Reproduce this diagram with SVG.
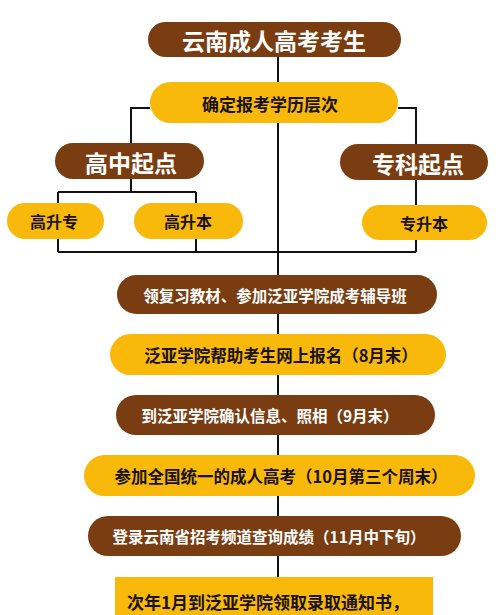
<svg xmlns="http://www.w3.org/2000/svg" width="500" height="615" viewBox="0 0 500 615">
<style>
.d{fill:#7a3d12}
.y{fill:#f8b90b}
.t{font-family:"Noto Sans CJK SC","Noto Sans",sans-serif;font-weight:bold;text-anchor:middle;dominant-baseline:central}
.w{fill:#ffffff}
.k{fill:#1a1208}
.ln{stroke:#111;stroke-width:2;fill:none}
</style>
<rect width="500" height="615" fill="#ffffff"/>
<g id="connectors">
<path class="ln" d="M278 57V577"/>
<path class="ln" d="M150 108H131V143M398 108H416V145"/>
<path class="ln" d="M131 179V192M58 192H196M58 192V204M196 192V204"/>
<path class="ln" d="M416 180V205"/>
<path class="ln" d="M58 239V252M196 239V252M416 240V252M58 252H416"/>
</g>
<g id="n-top"><rect class="d" x="148" y="22" width="253" height="35" rx="17.5"/><text class="t w" x="274" y="40" font-size="23">云南成人高考考生</text></g>
<g id="n-level"><rect class="y" x="150" y="82" width="248" height="41" rx="20.5"/><text class="t k" x="270" y="103" font-size="17">确定报考学历层次</text></g>
<g id="n-gz"><rect class="d" x="55" y="143" width="149" height="36" rx="18"/><text class="t w" x="131" y="162" font-size="23">高中起点</text></g>
<g id="n-zk"><rect class="d" x="340" y="144" width="148" height="36" rx="18"/><text class="t w" x="418" y="163" font-size="23">专科起点</text></g>
<g id="n-gsz"><rect class="y" x="7" y="203" width="97" height="36" rx="18"/><text class="t k" x="54" y="221" font-size="16">高升专</text></g>
<g id="n-gsb"><rect class="y" x="134" y="203" width="109" height="36" rx="18"/><text class="t k" x="188" y="221" font-size="16">高升本</text></g>
<g id="n-zsb"><rect class="y" x="362" y="205" width="125" height="35" rx="17.5"/><text class="t k" x="424" y="223" font-size="16">专升本</text></g>
<g id="n-s1"><rect class="d" x="117" y="275" width="320" height="39" rx="19.5"/><text class="t w" x="275" y="294.5" font-size="15.5">领复习教材、参加泛亚学院成考辅导班</text></g>
<g id="n-s2"><rect class="y" x="110" y="334" width="336" height="41" rx="20.5"/><text class="t k" x="281" y="355" font-size="16.5">泛亚学院帮助考生网上报名（8月末）</text></g>
<g id="n-s3"><rect class="d" x="116" y="395" width="319" height="40" rx="20"/><text class="t w" x="270" y="415" font-size="15.5">到泛亚学院确认信息、照相（9月末）</text></g>
<g id="n-s4"><rect class="y" x="84" y="455" width="391" height="41" rx="20.5"/><text class="t k" x="281" y="476" font-size="16.5">参加全国统一的成人高考（10月第三个周末）</text></g>
<g id="n-s5"><rect class="d" x="88" y="516" width="373" height="40" rx="20"/><text class="t w" x="269" y="536" font-size="15.5">登录云南省招考频道查询成绩（11月中下旬）</text></g>
<g id="n-s6"><rect class="y" x="115" y="577" width="318" height="40"/><text class="t k" x="268" y="601" font-size="17">次年1月到泛亚学院领取录取通知书，</text></g>
</svg>
